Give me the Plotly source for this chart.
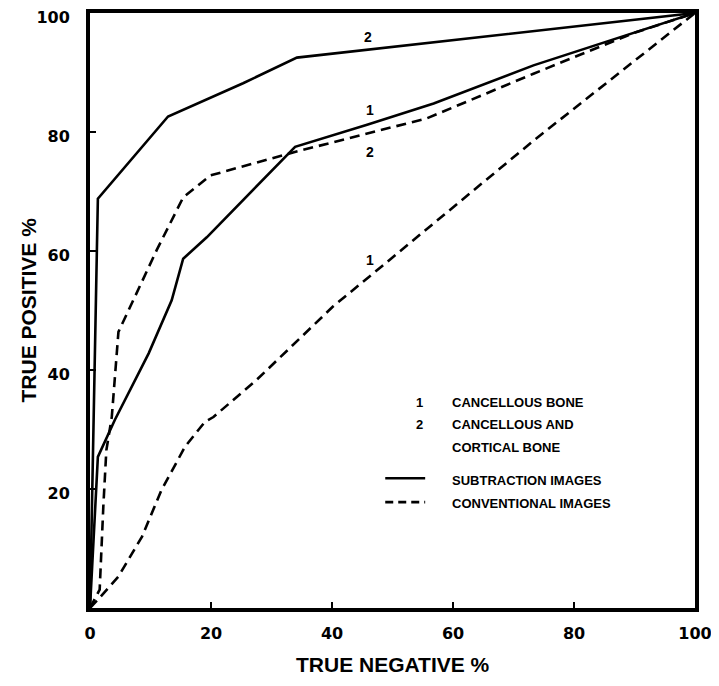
import plotly.graph_objects as go

# ---- data ----
sub1_x = [0, 1.3, 4.1, 9.7, 13.5, 15.4, 19.3, 33.9, 45.8, 56.8, 73.3, 89.8, 100]
sub1_y = [0, 25.4, 31.6, 42.8, 51.7, 58.7, 62.3, 77.5, 81.2, 84.8, 91.2, 96.6, 100]

sub2_x = [0, 1.3, 12.9, 25.3, 34.2, 100]
sub2_y = [0, 68.8, 82.6, 88.2, 92.5, 100]

conv2_x = [0, 1.6, 2.2, 2.7, 3.6, 4.7, 11.0, 15.4, 19.9, 33.7, 55.7, 73.3, 89.8, 100]
conv2_y = [0, 3.1, 17.0, 26.5, 32.1, 46.4, 60.1, 69.0, 72.7, 76.6, 82.3, 89.8, 96.6, 100]

conv1_x = [0, 1.3, 4.7, 8.6, 11.8, 15.7, 19.0, 20.4, 27.5, 40.2, 48.2, 73.5, 100]
conv1_y = [0, 1.4, 5.3, 12.0, 19.8, 27.1, 31.3, 32.1, 38.3, 50.7, 57.4, 78.7, 100]

x_ticks = [0, 20, 40, 60, 80, 100]
y_ticks = [20, 40, 60, 80, 100]

curve_labels = ["2", "1", "2", "1"]
curve_label_x = [46, 46.3, 46.3, 46.3]
curve_label_y = [96.0, 83.7, 76.6, 58.5]

legend_nums = ["1", "2"]
legend_texts = ["CANCELLOUS BONE", "CANCELLOUS AND", "CORTICAL BONE",
                "SUBTRACTION IMAGES", "CONVENTIONAL IMAGES"]

FONT = "Liberation Sans, Arial, sans-serif"
TICKFONT = "DejaVu Sans, sans-serif"
DASH = "10px,6px"

fig = go.Figure()
line_solid = dict(color="black", width=2.6)
line_dash = dict(color="black", width=2.6, dash=DASH)

fig.add_trace(go.Scatter(x=sub2_x, y=sub2_y, mode="lines", line=line_solid, showlegend=False))
fig.add_trace(go.Scatter(x=sub1_x, y=sub1_y, mode="lines", line=line_solid, showlegend=False))
fig.add_trace(go.Scatter(x=conv2_x, y=conv2_y, mode="lines", line=line_dash, showlegend=False))
fig.add_trace(go.Scatter(x=conv1_x, y=conv1_y, mode="lines", line=line_dash, showlegend=False))

# curve number labels
for t, x, y in zip(curve_labels, curve_label_x, curve_label_y):
    fig.add_annotation(x=x, y=y, text="<b>%s</b>" % t, showarrow=False,
                       font=dict(family=FONT, size=14, color="black"))

# legend block (data coords)
leg_text_x = 59.5
leg_num_x = 54.5
leg_ys = [34.5, 30.8, 26.9, 21.5, 17.6]
small = dict(family=FONT, size=13, color="black")
for t, y in zip(legend_nums, leg_ys[:2]):
    fig.add_annotation(x=leg_num_x, y=y, text="<b>%s</b>" % t, showarrow=False, font=small)
for t, y in zip(legend_texts, leg_ys):
    fig.add_annotation(x=leg_text_x, y=y, text="<b>%s</b>" % t, showarrow=False,
                       xanchor="left", font=small)
fig.add_shape(type="line", x0=48.8, x1=55.4, y0=21.8, y1=21.8,
              line=dict(color="black", width=2.6))
fig.add_shape(type="line", x0=48.8, x1=55.4, y0=17.8, y1=17.8,
              line=dict(color="black", width=2.6, dash="8px,5px"))

axis_common = dict(range=[0, 100], showline=True, mirror=True, linecolor="black",
                   linewidth=4, ticks="inside", ticklen=6, tickwidth=1.5,
                   tickcolor="black", showgrid=False, zeroline=False, automargin=False,
                   ticklabeloverflow="allow",
                   tickfont=dict(family=TICKFONT, size=16, color="black"))
fig.update_xaxes(tickvals=x_ticks, ticktext=["<b>%d</b>" % v for v in x_ticks],
                 ticklabelstandoff=8, **axis_common)
fig.update_yaxes(tickvals=y_ticks, ticktext=["<b>%d</b>" % v for v in y_ticks],
                 ticklabelstandoff=13, ticklabelshift=4, **axis_common)

# axis titles
fig.add_annotation(xref="paper", yref="paper", x=0.5, y=0, yshift=-56,
                   text="<b>TRUE NEGATIVE %</b>", showarrow=False, yanchor="middle",
                   font=dict(family=FONT, size=21, color="black"))
fig.add_annotation(xref="paper", yref="paper", x=0, y=0.5, xshift=-62,
                   text="<b>TRUE POSITIVE %</b>", showarrow=False, textangle=-90,
                   xanchor="center", font=dict(family=FONT, size=21, color="black"))

# page body adds an 8px margin, so the figure is sized/offset to compensate
fig.update_layout(width=711, height=678,
                  margin=dict(l=82, r=24, t=5, b=78),
                  plot_bgcolor="white", paper_bgcolor="white")

fig.write_html("out.html")
